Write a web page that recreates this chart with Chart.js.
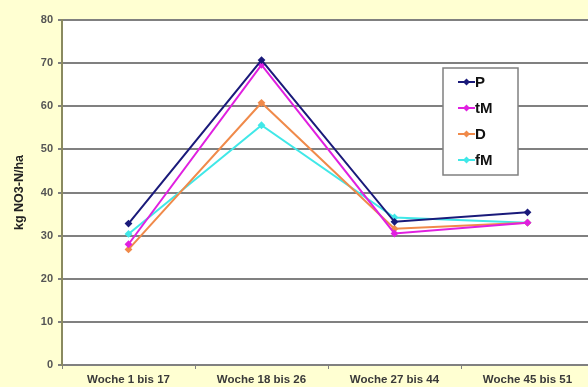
<!DOCTYPE html>
<html>
<head>
<meta charset="utf-8">
<script src="https://cdn.jsdelivr.net/npm/chart.js@4"></script>
<style>
  html, body { margin: 0; padding: 0; overflow: hidden; background: #FFFFD2; }
  #wrap { width: 588px; height: 387px; overflow: hidden; position: relative; }
  canvas { display: block; }
</style>
</head>
<body>
<div id="wrap"><canvas id="c" width="600" height="387"></canvas></div>
<script>
// Nitrate leaching per period (kg NO3-N/ha)
const categories = ['Woche 1 bis 17', 'Woche 18 bis 26', 'Woche 27 bis 44', 'Woche 45 bis 51'];
const seriesP  = [32.8, 70.7, 33.2, 35.4];
const seriesTM = [28.0, 69.6, 30.5, 33.0];
const seriesD  = [26.8, 60.8, 31.6, 33.0];
const seriesFM = [30.4, 55.6, 34.2, 33.0];
const yTicks = [0, 10, 20, 30, 40, 50, 60, 70, 80];

const seriesNames  = ['P', 'tM', 'D', 'fM'];
const seriesColors = ['#1a1a7a', '#e020e0', '#f08a4a', '#40e8e8'];
const seriesValues = [seriesP, seriesTM, seriesD, seriesFM];

const FONT = '"Liberation Sans", Arial, sans-serif';

const datasets = seriesNames.map((name, i) => ({
  label: name,
  data: seriesValues[i],
  borderColor: seriesColors[i],
  backgroundColor: seriesColors[i],
  borderWidth: 2,
  pointStyle: 'rectRot',
  pointRadius: 2.5,
  tension: 0
}));

// White plot area and boxed legend inside the chart
const plotDecor = {
  id: 'plotDecor',
  beforeDraw(chart) {
    const { ctx, chartArea: a } = chart;
    ctx.save();
    ctx.fillStyle = '#ffffff';
    ctx.fillRect(a.left, a.top, a.right - a.left, a.bottom - a.top);
    ctx.restore();
  },
  afterDraw(chart) {
    const ctx = chart.ctx;
    ctx.save();
    const bx = 443, by = 68, bw = 75, bh = 107;
    ctx.fillStyle = '#ffffff';
    ctx.fillRect(bx, by, bw, bh);
    ctx.strokeStyle = '#808080';
    ctx.lineWidth = 1.5;
    ctx.strokeRect(bx, by, bw, bh);
    const rows = [82, 108, 134, 160];
    ctx.font = 'bold 15px ' + FONT;
    ctx.textBaseline = 'middle';
    chart.data.datasets.forEach((ds, i) => {
      const y = rows[i];
      ctx.strokeStyle = ds.borderColor;
      ctx.lineWidth = 2;
      ctx.beginPath();
      ctx.moveTo(458, y);
      ctx.lineTo(475, y);
      ctx.stroke();
      ctx.fillStyle = ds.borderColor;
      ctx.beginPath();
      ctx.moveTo(466.5, y - 3.5);
      ctx.lineTo(470, y);
      ctx.lineTo(466.5, y + 3.5);
      ctx.lineTo(463, y);
      ctx.closePath();
      ctx.fill();
      ctx.fillStyle = '#111111';
      ctx.fillText(ds.label, 475, y + 1);
    });
    ctx.restore();
  }
};

new Chart(document.getElementById('c'), {
  type: 'line',
  data: { labels: categories, datasets },
  options: {
    responsive: false,
    animation: false,
    layout: { padding: { top: 20, right: 2, left: 0, bottom: 0 } },
    plugins: { legend: { display: false }, tooltip: { enabled: false } },
    scales: {
      x: {
        offset: true,
        grid: { display: true, drawOnChartArea: false, drawTicks: true, tickLength: 4, color: '#808080', offset: true },
        border: { color: '#808080', width: 2 },
        ticks: {
          color: '#3a3a3a',
          font: { family: FONT, size: 11.5, weight: 'bold' },
          maxRotation: 0, autoSkip: false, padding: 4
        },
        afterFit(s) { s.height = 22; }
      },
      y: {
        min: 0, max: 80,
        afterBuildTicks(s) { s.ticks = yTicks.map(v => ({ value: v })); },
        grid: { color: '#808080', lineWidth: 2, tickLength: 4, drawTicks: true },
        border: { color: '#8a8a60', width: 2 },
        ticks: {
          color: '#555555',
          font: { family: FONT, size: 11, weight: 'bold' },
          padding: 5
        },
        title: {
          display: true,
          text: 'kg NO3-N/ha',
          color: '#222222',
          font: { family: FONT, size: 12.5, weight: 'bold' },
          padding: { top: 12, bottom: 0 }
        },
        afterFit(s) { s.width = 62; }
      }
    }
  },
  plugins: [plotDecor]
});
</script>
</body>
</html>
